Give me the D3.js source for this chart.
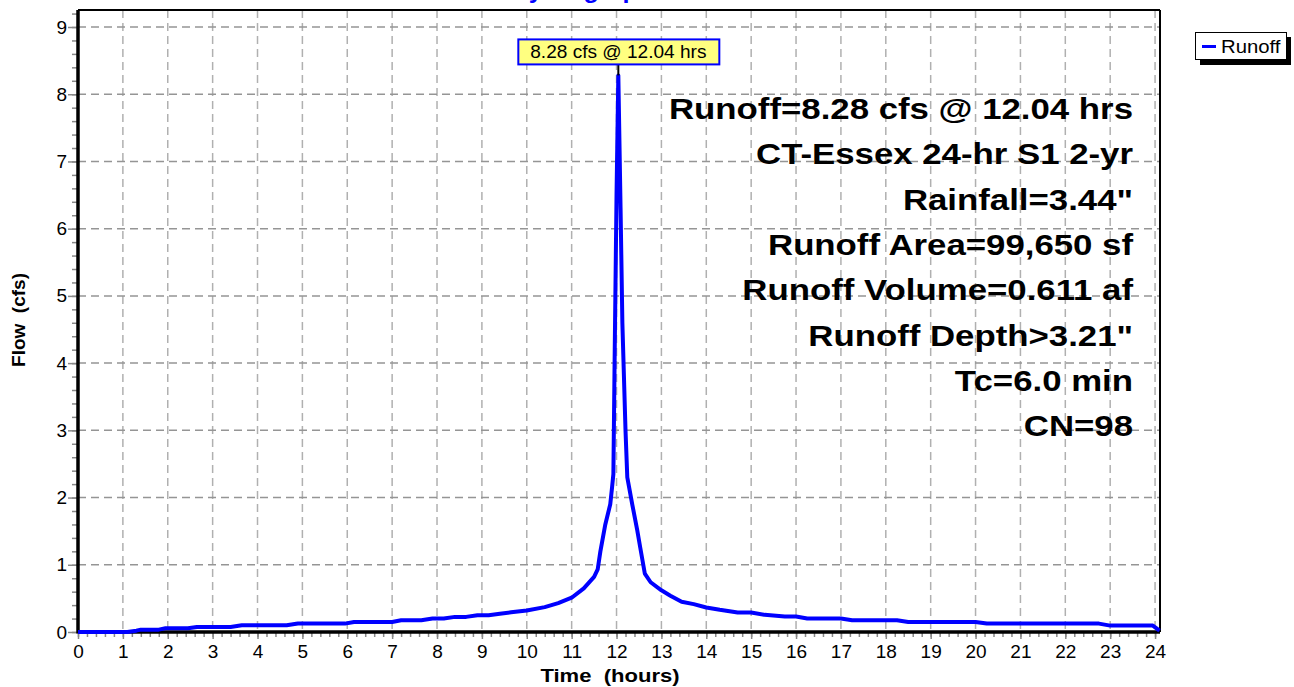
<!DOCTYPE html>
<html>
<head>
<meta charset="utf-8">
<script src="https://cdn.jsdelivr.net/npm/d3@7"></script>
<style>
  body { margin: 0; background: #fff; }
  svg { display: block; font-family: "Liberation Sans", Arial, sans-serif; }
</style>
</head>
<body>
<div id="chart"></div>
<script>
// hydrograph ordinates (hours, cfs)
var hours = [0, 1.1, 1.3, 1.4, 1.8, 1.95, 2.45, 2.65, 3.4, 3.65, 4.65, 4.9, 5.95, 6.15, 7.0, 7.2, 7.65, 7.9,
  8.15, 8.4, 8.65, 8.9, 9.15, 9.4, 9.65, 10.0, 10.4, 10.7, 11.0, 11.27, 11.5, 11.58, 11.64, 11.75, 11.86,
  11.9, 11.93, 11.96, 12.0, 12.04, 12.09, 12.13, 12.2, 12.24, 12.35, 12.46, 12.53, 12.63, 12.76, 13.0,
  13.2, 13.45, 13.72, 14.0, 14.3, 14.7, 15.0, 15.3, 15.75, 16.0, 16.25, 17.0, 17.25, 18.25, 18.5, 20.0,
  20.25, 22.75, 23.0, 23.95, 24.1];
var flow = [0, 0, 0.02, 0.035, 0.035, 0.055, 0.055, 0.075, 0.075, 0.1, 0.1, 0.125, 0.125, 0.15, 0.15, 0.175, 0.175, 0.2,
  0.2, 0.225, 0.225, 0.25, 0.25, 0.27, 0.293, 0.32, 0.37, 0.43, 0.51, 0.65, 0.82, 0.93, 1.2, 1.6, 1.9,
  2.15, 2.35, 4.2, 6.5, 8.28, 6.3, 4.6, 3.0, 2.3, 1.9, 1.52, 1.25, 0.87, 0.74, 0.62,
  0.54, 0.45, 0.415, 0.365, 0.33, 0.29, 0.29, 0.255, 0.23, 0.23, 0.2, 0.2, 0.175, 0.175, 0.15, 0.15,
  0.125, 0.125, 0.095, 0.095, 0.02];

var xTicks = d3.range(0, 25);
var yTicks = d3.range(0, 10);
var peak = { t: 12.04, q: 8.28, label: "8.28 cfs @ 12.04 hrs" };
var notes = ["Runoff=8.28 cfs @ 12.04 hrs", "CT-Essex 24-hr S1 2-yr", "Rainfall=3.44\"",
  "Runoff Area=99,650 sf", "Runoff Volume=0.611 af", "Runoff Depth>3.21\"", "Tc=6.0 min", "CN=98"];

var width = 1294, height = 687;
var plot = { left: 78, right: 1160, top: 10, bottom: 632 };
var sx = 1.16; // text in the picture is a bit wider than normal

var x = d3.scaleLinear().domain([0, 24.11]).range([plot.left, plot.right]);
var y = d3.scaleLinear().domain([0, 9.253]).range([plot.bottom, plot.top]);

var svg = d3.select("#chart").append("svg")
  .attr("width", width)
  .attr("height", height);

function wideText(x0, y0, str, k, anchor) {
  return svg.append("text")
    .attr("transform", "translate(" + x0 + "," + y0 + ") scale(" + k + ",1)")
    .attr("text-anchor", anchor)
    .style("white-space", "pre")
    .text(str);
}

// title, cut off by the top of the picture
wideText(582, -2, "Hydrograph", 1.05, "middle")
  .attr("fill", "#0000ff")
  .attr("font-weight", "bold")
  .attr("font-size", 24);

// dashed grid
svg.append("g").selectAll("line")
  .data(xTicks.slice(1))
  .enter().append("line")
  .attr("x1", function (d) { return x(d); })
  .attr("x2", function (d) { return x(d); })
  .attr("y1", plot.top)
  .attr("y2", plot.bottom)
  .attr("stroke", "#b0b0b0")
  .attr("stroke-width", 1.5)
  .attr("stroke-dasharray", "8,5");
svg.append("g").selectAll("line")
  .data(yTicks.slice(1))
  .enter().append("line")
  .attr("x1", plot.left)
  .attr("x2", plot.right)
  .attr("y1", function (d) { return y(d); })
  .attr("y2", function (d) { return y(d); })
  .attr("stroke", "#959595")
  .attr("stroke-width", 1.5)
  .attr("stroke-dasharray", "8,5");

// frame
svg.append("line").attr("x1", plot.left).attr("x2", plot.right).attr("y1", plot.top).attr("y2", plot.top)
  .attr("stroke", "#000").attr("stroke-width", 2);
svg.append("line").attr("x1", plot.right).attr("x2", plot.right).attr("y1", plot.top).attr("y2", plot.bottom)
  .attr("stroke", "#000").attr("stroke-width", 2);

// axes: minor ticks then major ticks with labels
var minorX = d3.range(0, 121).map(function (i) { return i / 5; });
var minorY = d3.range(0, 47).map(function (i) { return i / 5; });

svg.append("g")
  .attr("transform", "translate(0," + plot.bottom + ")")
  .call(d3.axisBottom(x).tickValues(minorX).tickSize(5).tickFormat(""))
  .call(function (g) { g.select(".domain").remove(); g.selectAll("line").attr("stroke", "#888").attr("stroke-width", 1.5); });
svg.append("g")
  .attr("transform", "translate(" + plot.left + ",0)")
  .call(d3.axisLeft(y).tickValues(minorY).tickSize(6).tickFormat(""))
  .call(function (g) { g.select(".domain").remove(); g.selectAll("line").attr("stroke", "#888").attr("stroke-width", 1.5); });

var xAxis = svg.append("g")
  .attr("transform", "translate(0," + plot.bottom + ")")
  .call(d3.axisBottom(x).tickValues(xTicks).tickSize(7).tickPadding(6).tickFormat(d3.format("d")));
xAxis.select(".domain").remove();
xAxis.selectAll("line").attr("stroke", "#888").attr("stroke-width", 1.5);
xAxis.attr("font-size", 19).attr("font-family", "Liberation Sans, Arial, sans-serif");
xAxis.selectAll("text").attr("fill", "#000");

var yAxis = svg.append("g")
  .attr("transform", "translate(" + plot.left + ",0)")
  .call(d3.axisLeft(y).tickValues(yTicks).tickSize(10).tickPadding(1).tickFormat(d3.format("d")));
yAxis.select(".domain").remove();
yAxis.selectAll("line").attr("stroke", "#888").attr("stroke-width", 1.5);
yAxis.attr("font-size", 19).attr("font-family", "Liberation Sans, Arial, sans-serif");
yAxis.selectAll("text").attr("fill", "#000");

// thick zero lines
svg.append("line").attr("x1", plot.left).attr("x2", plot.left).attr("y1", plot.top).attr("y2", plot.bottom + 1.5)
  .attr("stroke", "#000").attr("stroke-width", 3.5);
svg.append("line").attr("x1", plot.left).attr("x2", plot.right).attr("y1", plot.bottom).attr("y2", plot.bottom)
  .attr("stroke", "#000").attr("stroke-width", 3.5);

// runoff curve
var pts = hours.map(function (t, i) { return [t, flow[i]]; });
svg.append("path")
  .datum(pts)
  .attr("fill", "none")
  .attr("stroke", "#0000ff")
  .attr("stroke-width", 4)
  .attr("stroke-linejoin", "round")
  .attr("d", d3.line().x(function (d) { return x(d[0]); }).y(function (d) { return y(d[1]); }));

// peak callout
var px = x(peak.t), py = y(peak.q);
svg.append("line").attr("x1", px).attr("x2", px).attr("y1", py - 12).attr("y2", py)
  .attr("stroke", "#000").attr("stroke-width", 2);
svg.append("rect")
  .attr("x", px - 100).attr("y", py - 36)
  .attr("width", 201).attr("height", 25)
  .attr("fill", "#ffff80")
  .attr("stroke", "#0000ff")
  .attr("stroke-width", 2);
wideText(px, py - 17, peak.label, 1.06, "middle")
  .attr("font-size", 18)
  .attr("fill", "#000");

// storm summary
notes.forEach(function (s, i) {
  wideText(1133, 119 + i * 45.3, s, sx, "end")
    .attr("font-size", 30)
    .attr("font-weight", "bold")
    .attr("fill", "#000");
});

// axis titles
wideText(610, 682, "Time  (hours)", sx, "middle")
  .attr("font-size", 19)
  .attr("font-weight", "bold");
svg.append("text")
  .attr("transform", "translate(25,320) rotate(-90)")
  .attr("text-anchor", "middle")
  .style("white-space", "pre")
  .attr("font-size", 19)
  .attr("font-weight", "bold")
  .text("Flow  (cfs)");

// legend
svg.append("rect").attr("x", 1200).attr("y", 37).attr("width", 91).attr("height", 28).attr("fill", "#000");
svg.append("rect").attr("x", 1195.5).attr("y", 32.5).attr("width", 91).attr("height", 27)
  .attr("fill", "#fff").attr("stroke", "#000").attr("stroke-width", 1);
svg.append("line").attr("x1", 1202).attr("x2", 1216).attr("y1", 46.5).attr("y2", 46.5)
  .attr("stroke", "#0000ff").attr("stroke-width", 3);
wideText(1221, 53, "Runoff", 1.07, "start").attr("font-size", 19);
</script>
</body>
</html>
